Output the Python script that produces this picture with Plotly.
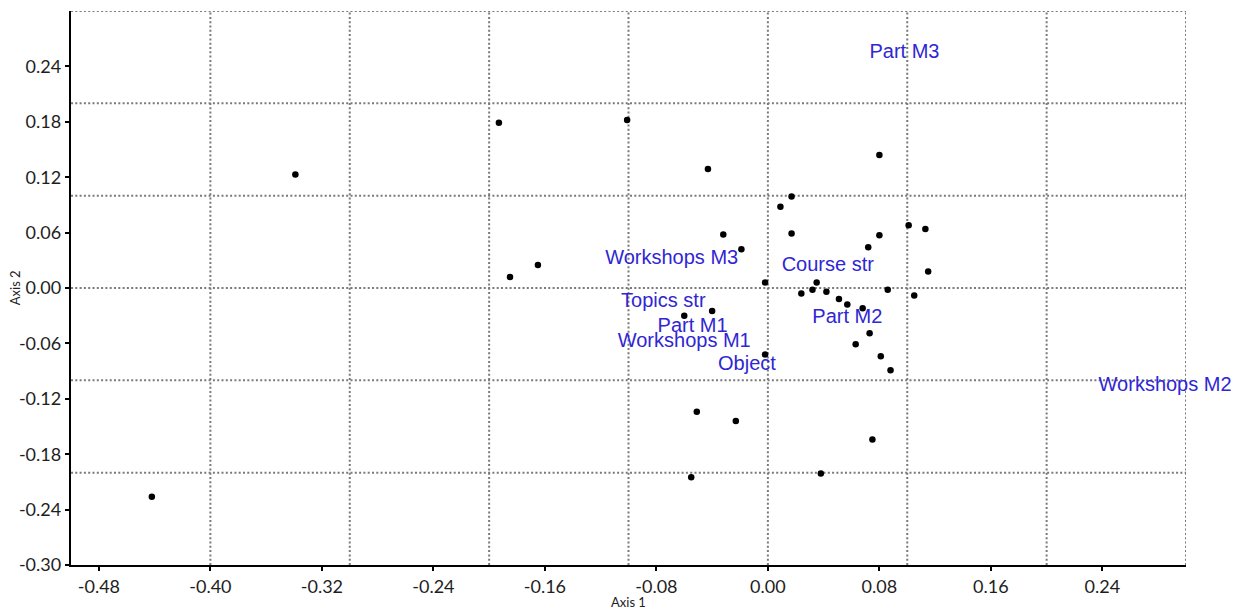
import plotly.graph_objects as go

# ---- data ----
point_x = [-0.442, -0.339, -0.193, -0.101, -0.185, -0.165, -0.043, -0.032, -0.019, 0.017,
           0.009, 0.017, 0.080, 0.101, 0.113, 0.080, 0.072, 0.115, -0.002, 0.035,
           0.024, 0.032, 0.042, 0.051, 0.057, 0.068, 0.086, 0.105, 0.073, 0.063,
           0.081, 0.088, -0.060, -0.040, -0.002, -0.051, -0.023, -0.055, 0.075, 0.038]
point_y = [-0.226, 0.123, 0.179, 0.182, 0.012, 0.025, 0.129, 0.058, 0.042, 0.099,
           0.088, 0.059, 0.144, 0.068, 0.064, 0.057, 0.044, 0.018, 0.006, 0.006,
           -0.006, -0.002, -0.004, -0.012, -0.018, -0.022, -0.002, -0.008, -0.049, -0.061,
           -0.074, -0.089, -0.030, -0.025, -0.072, -0.134, -0.144, -0.205, -0.164, -0.201]

label_text = ["Part M3", "Workshops M3", "Course str", "Topics str", "Part M1",
              "Workshops M1", "Object", "Part M2", "Workshops M2"]
label_x = [0.098, -0.069, 0.043, -0.075, -0.054, -0.060, -0.015, 0.057, 0.285]
label_y = [0.254, 0.031, 0.024, -0.015, -0.042, -0.059, -0.083, -0.032, -0.106]

x_ticks = [-0.48, -0.40, -0.32, -0.24, -0.16, -0.08, 0.00, 0.08, 0.16, 0.24]
y_ticks = [-0.30, -0.24, -0.18, -0.12, -0.06, 0.00, 0.06, 0.12, 0.18, 0.24]
x_grid = [-0.4, -0.3, -0.2, -0.1, 0.0, 0.1, 0.2, 0.3]
y_grid = [-0.2, -0.1, 0.0, 0.1, 0.2, 0.3]
x_range = [-0.5, 0.3]
y_range = [-0.3, 0.3]

GRID = dict(color="#7a7a7a", width=2, dash="2px,2.3px")
TICKFONT = dict(family="Lato, sans-serif", size=18, color="#1e1e1e")

fig = go.Figure()

fig.add_trace(go.Scatter(
    x=point_x, y=point_y, mode="markers",
    marker=dict(color="black", size=6.5),
    hoverinfo="skip", showlegend=False))

fig.add_trace(go.Scatter(
    x=label_x, y=label_y, mode="text", text=label_text,
    textposition="middle center",
    textfont=dict(family="Liberation Sans, Arial, sans-serif", size=20, color="rgb(48,38,212)"),
    cliponaxis=False, hoverinfo="skip", showlegend=False))

shapes = []
for gx in x_grid:
    shapes.append(dict(type="line", xref="x", yref="y domain", x0=gx, x1=gx, y0=0, y1=1,
                       line=GRID, layer="below"))
for gy in y_grid:
    shapes.append(dict(type="line", xref="x domain", yref="y", x0=0, x1=1, y0=gy, y1=gy,
                       line=GRID, layer="below"))

fig.update_layout(
    width=1241, height=609,
    margin=dict(l=71, r=55, t=11, b=44),
    paper_bgcolor="white", plot_bgcolor="white",
    shapes=shapes,
    xaxis=dict(range=x_range, tickmode="array", tickvals=x_ticks,
               ticktext=[f"{v:.2f}" for v in x_ticks],
               showgrid=False, zeroline=False,
               showline=True, linecolor="black", linewidth=2.4,
               ticks="outside", ticklen=4, tickwidth=1.5, tickcolor="black",
               tickfont=TICKFONT),
    yaxis=dict(range=y_range, tickmode="array", tickvals=y_ticks,
               ticktext=[f"{v:.2f}" for v in y_ticks],
               showgrid=False, zeroline=False,
               showline=True, linecolor="black", linewidth=2.4,
               ticks="outside", ticklen=4, tickwidth=1.5, tickcolor="black",
               tickfont=TICKFONT),
    annotations=[
        dict(text="Axis 1", xref="paper", yref="paper", x=0.5, y=-0.0675,
             xanchor="center", yanchor="middle", showarrow=False,
             font=dict(family="Lato, sans-serif", size=13, color="#222222")),
        dict(text="Axis 2", xref="paper", yref="paper", x=-0.05, y=0.5,
             xanchor="center", yanchor="middle", showarrow=False, textangle=-90,
             font=dict(family="Lato, sans-serif", size=13, color="#222222")),
    ],
)

fig.write_html("out.html")
